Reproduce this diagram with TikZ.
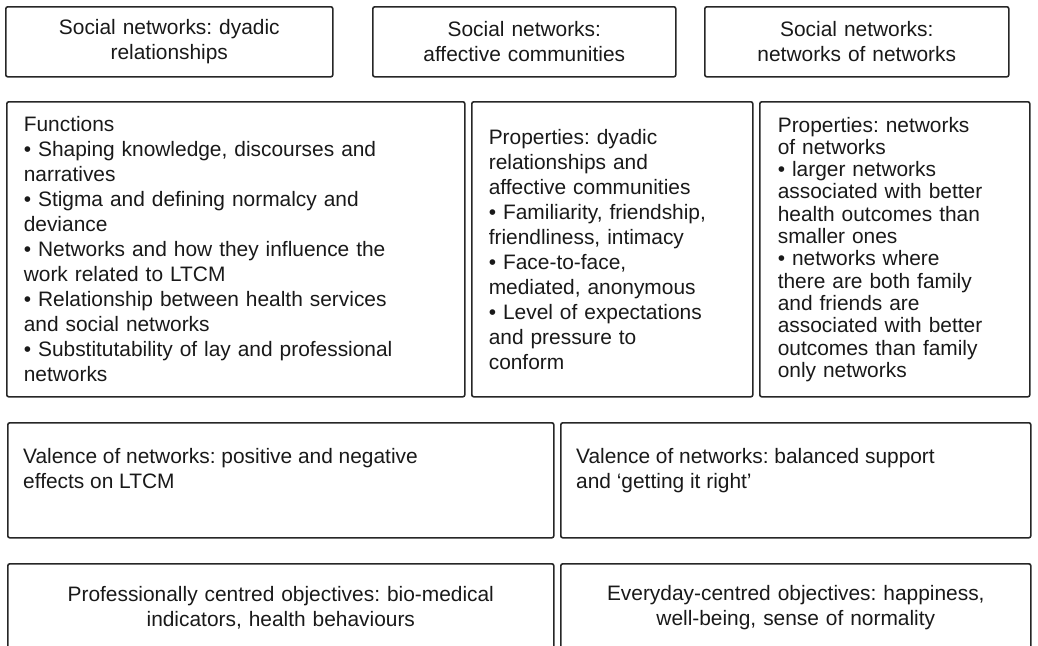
\documentclass[tikz,border=0pt]{standalone}
\usepackage{fontspec}
\setmainfont{Liberation Sans}
\usepackage{tikz}
\frenchspacing

\begin{document}
\begin{tikzpicture}[x=1pt,y=-1pt]
\tikzstyle{frame}=[draw=black!85,line width=1.6pt,rounded corners=2pt,anchor=north west,inner sep=0pt]
\tikzstyle{box}=[frame,inner ysep=0pt,text=black!90,font=\fontsize{20.9pt}{25pt}\selectfont]
\tikzstyle{head}=[box,align=center,inner xsep=10pt]
\tikzstyle{list}=[box,align=left,inner xsep=17pt,minimum height=295pt]
\tikzstyle{txt}=[anchor=north west,inner sep=0pt,align=left,text=black!90,font=\fontsize{20.9pt}{25pt}\selectfont]
\clip (0,0) rectangle (1038,645);
	% top row: kinds of social networks
    \node[head,text width=307pt,minimum height=70pt] (dyadic) at (5,6) {Social networks: dyadic\\relationships};
    \node[head,text width=283pt,minimum height=70pt] (affective) at (372,6) {Social networks:\\affective communities};
    \node[head,text width=284pt,minimum height=70pt] (netnet) at (704,6) {Social networks:\\networks of networks};
	% middle row: functions and properties
    \node[list,text width=424pt] (functions) at (6,101) {Functions\\
    	• Shaping knowledge, discourses and\\narratives\\
    	• Stigma and defining normalcy and\\deviance\\
    	• Networks and how they influence the\\work related to LTCM\\
    	• Relationship between health services\\and social networks\\
    	• Substitutability of lay and professional\\networks};
    \node[list,text width=247pt] (propdyadic) at (471,101) {Properties: dyadic\\relationships and\\affective communities\\
    	• Familiarity, friendship,\\friendliness, intimacy\\
    	• Face-to-face,\\mediated, anonymous\\
    	• Level of expectations\\and pressure to\\conform};
    \node[list,text width=234pt,inner xsep=18pt,font=\fontsize{20.9pt}{22.3pt}\selectfont] (propnet) at (759,101) {Properties: networks\\of networks\\
    	• larger networks\\associated with better\\health outcomes than\\smaller ones\\
    	• networks where\\there are both family\\and friends are\\associated with better\\outcomes than family\\only networks};
	% valence row
    \node[frame,minimum width=546pt,minimum height=115pt] (valence) at (7,422) {};
    \node[txt] (valencetxt) at ([xshift=16pt,yshift=-26pt]valence.north west) {Valence of networks: positive and negative\\effects on LTCM};
    \node[frame,minimum width=470pt,minimum height=115pt] (balance) at (560,422) {};
    \node[txt] (balancetxt) at ([xshift=16pt,yshift=-26pt]balance.north west) {Valence of networks: balanced support\\and ‘getting it right’};
	% objectives row (runs off the page)
    \node[head,text width=526pt,minimum height=87pt] (professional) at (7,563) {Professionally centred objectives: bio-medical\\indicators, health behaviours};
    \node[head,text width=450pt,minimum height=87pt] (everyday) at (560,563) {Everyday-centred objectives: happiness,\\well-being, sense of normality};
\end{tikzpicture}
\end{document}
